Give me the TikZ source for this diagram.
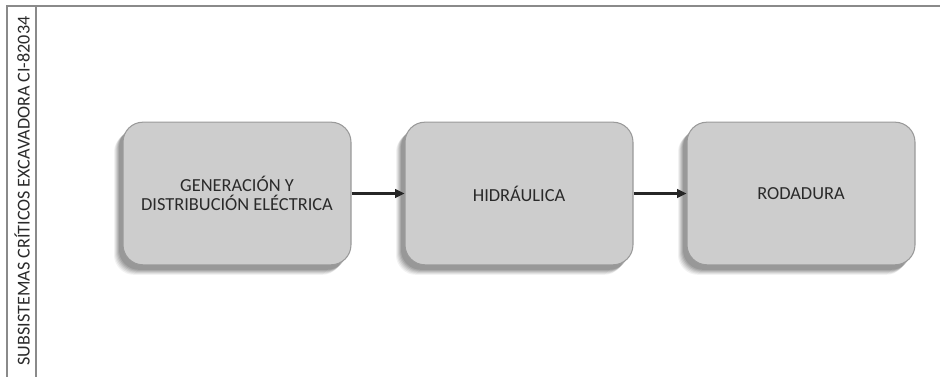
\documentclass[tikz,border=0pt]{standalone}
\usepackage{fontspec}
\setmainfont{Carlito}
\usetikzlibrary{arrows.meta}
\definecolor{boxfill}{HTML}{CDCDCD}
\definecolor{boxline}{HTML}{9A9A9A}
\definecolor{frameline}{HTML}{8A8A8A}
\definecolor{txt}{HTML}{2A2A2A}
\tikzset{
  blockbox/.style={draw=boxline, fill=boxfill, line width=0.8pt, rounded corners=15pt,
    minimum width=171pt, minimum height=107pt, align=center, font=\fontsize{13.8}{14.5}\selectfont, text=txt},
  shadowbox/.style={fill=black, rounded corners=15pt, minimum width=171pt, minimum height=107pt, draw=none},
  flow/.style={-{Triangle[length=7pt,width=6.5pt]}, line width=1.6pt, black!85},
  frame/.style={draw=frameline, line width=1.3pt}
}
\begin{document}
\begin{tikzpicture}[x=0.75pt,y=-0.75pt]
\useasboundingbox (0,0) rectangle (940,377);
% frame
\draw[frame] (7,377) -- (7,6) -- (940,6);
\draw[frame] (36,6) -- (36,377);
\node[rotate=90, font=\fontsize{13.6}{15}\selectfont, text=txt] (title) at (22,191) {SUBSISTEMAS CRÍTICOS EXCAVADORA CI-82034};
% shadows
\foreach \cx in {237,519,801}{
  \foreach \d/\op in {10/0.05,9/0.07,8/0.08,7/0.09,6/0.1,5/0.1}{
    \node[shadowbox, fill opacity=\op] at (\cx-\d+1,193.5+\d) {};
  }
}
\node[blockbox] (gen) at (237,193.5) {GENERACIÓN Y\\DISTRIBUCIÓN ELÉCTRICA};
\node[blockbox] (hid) at (519,193.5) {HIDRÁULICA};
\node[blockbox] (rod) at (801,193.5) {RODADURA};
\draw[flow] (gen.east) -- (hid.west);
\draw[flow] (hid.east) -- (rod.west);
\end{tikzpicture}
\end{document}
